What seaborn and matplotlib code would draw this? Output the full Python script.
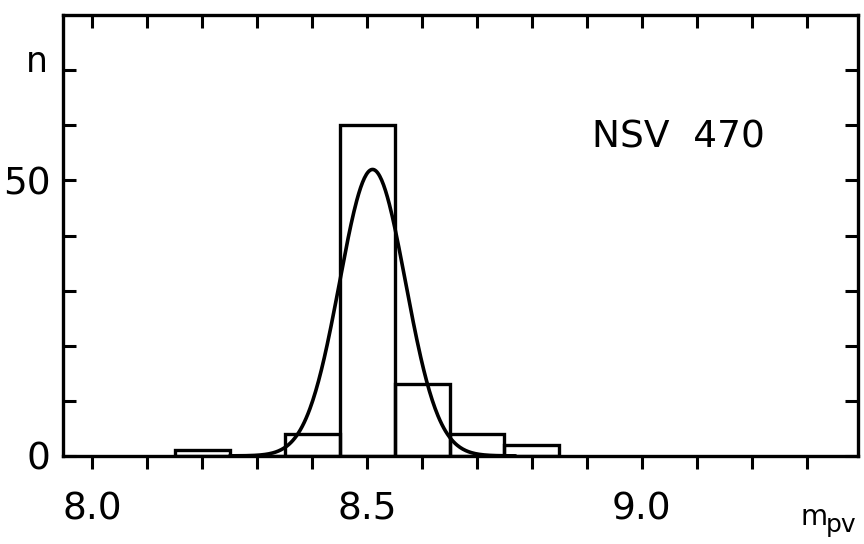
import numpy as np
import pandas as pd
import matplotlib
matplotlib.use("Agg")
import matplotlib.pyplot as plt
import seaborn as sns

# histogram of m_pv, bins 0.1 wide
bin_centers = [8.2, 8.3, 8.4, 8.5, 8.6, 8.7, 8.8]
counts = [1, 0, 4, 60, 13, 4, 2]
bin_edges = [8.15, 8.25, 8.35, 8.45, 8.55, 8.65, 8.75, 8.85]

# gaussian fit
fit_mean = 8.51
fit_sigma = 0.06
fit_peak = 52
fit_range = (8.25, 8.77)

x_ticks = [8.0, 8.5, 9.0]
x_tick_labels = ["8.0", "8.5", "9.0"]
y_ticks = [0, 50]
y_tick_labels = ["0", "50"]

sns.set_style("ticks")
plt.rcParams['font.family'] = ['DejaVu Sans']
plt.rcParams['text.color'] = 'black'
plt.rcParams['axes.labelcolor'] = 'black'

df = pd.DataFrame({'m': bin_centers, 'n': counts})

fig = plt.figure(figsize=(8.64, 5.44), dpi=100)
ax = fig.add_axes([0.073, 0.162, 0.920, 0.810])

sns.histplot(data=df, x='m', weights='n', bins=bin_edges, fill=False,
             color='black', linewidth=2.4, ax=ax)

xs = np.linspace(fit_range[0], fit_range[1], 300)
ys = fit_peak * np.exp(-0.5 * ((xs - fit_mean) / fit_sigma) ** 2)
sns.lineplot(x=xs, y=ys, color='black', linewidth=2.6, ax=ax)

ax.set_xlim(7.947, 9.393)
ax.set_ylim(0, 80)

ax.set_xticks(x_ticks)
ax.set_xticklabels(x_tick_labels)
ax.set_xticks(np.arange(8.1, 9.35, 0.1), minor=True)
ax.set_yticks(y_ticks)
ax.set_yticklabels(y_tick_labels)
ax.set_yticks(np.arange(10, 80, 10), minor=True)

for s in ax.spines.values():
    s.set_linewidth(2.4)
    s.set_color('black')
    s.set_visible(True)

ax.tick_params(axis='x', which='both', direction='out', length=9.5, width=2.2,
               top=True, labelsize=27, pad=16, color='black', labelcolor='black')
ax.tick_params(axis='y', which='both', direction='in', length=9.5, width=2.2,
               right=True, labelsize=27, pad=9, color='black', labelcolor='black')
# top ticks point inward
for t in ax.xaxis.get_major_ticks() + ax.xaxis.get_minor_ticks():
    t.tick2line.set_marker(matplotlib.lines.TICKDOWN)

ax.set_xlabel("")
ax.set_ylabel("n", rotation=0, fontsize=25, va='center', ha='center')
ax.yaxis.set_label_coords(-0.033, 0.893)

ax.text(0.774, 0.723, "NSV  470", transform=ax.transAxes, fontsize=27,
        ha='center', va='center')
# x label: m with subscript pv
ax.text(0.928, -0.156, "m", transform=ax.transAxes,
        fontsize=20, ha='left', va='baseline')
ax.text(0.960, -0.172, "pv", transform=ax.transAxes,
        fontsize=18, ha='left', va='baseline')

fig.savefig("out.png", dpi=100)
